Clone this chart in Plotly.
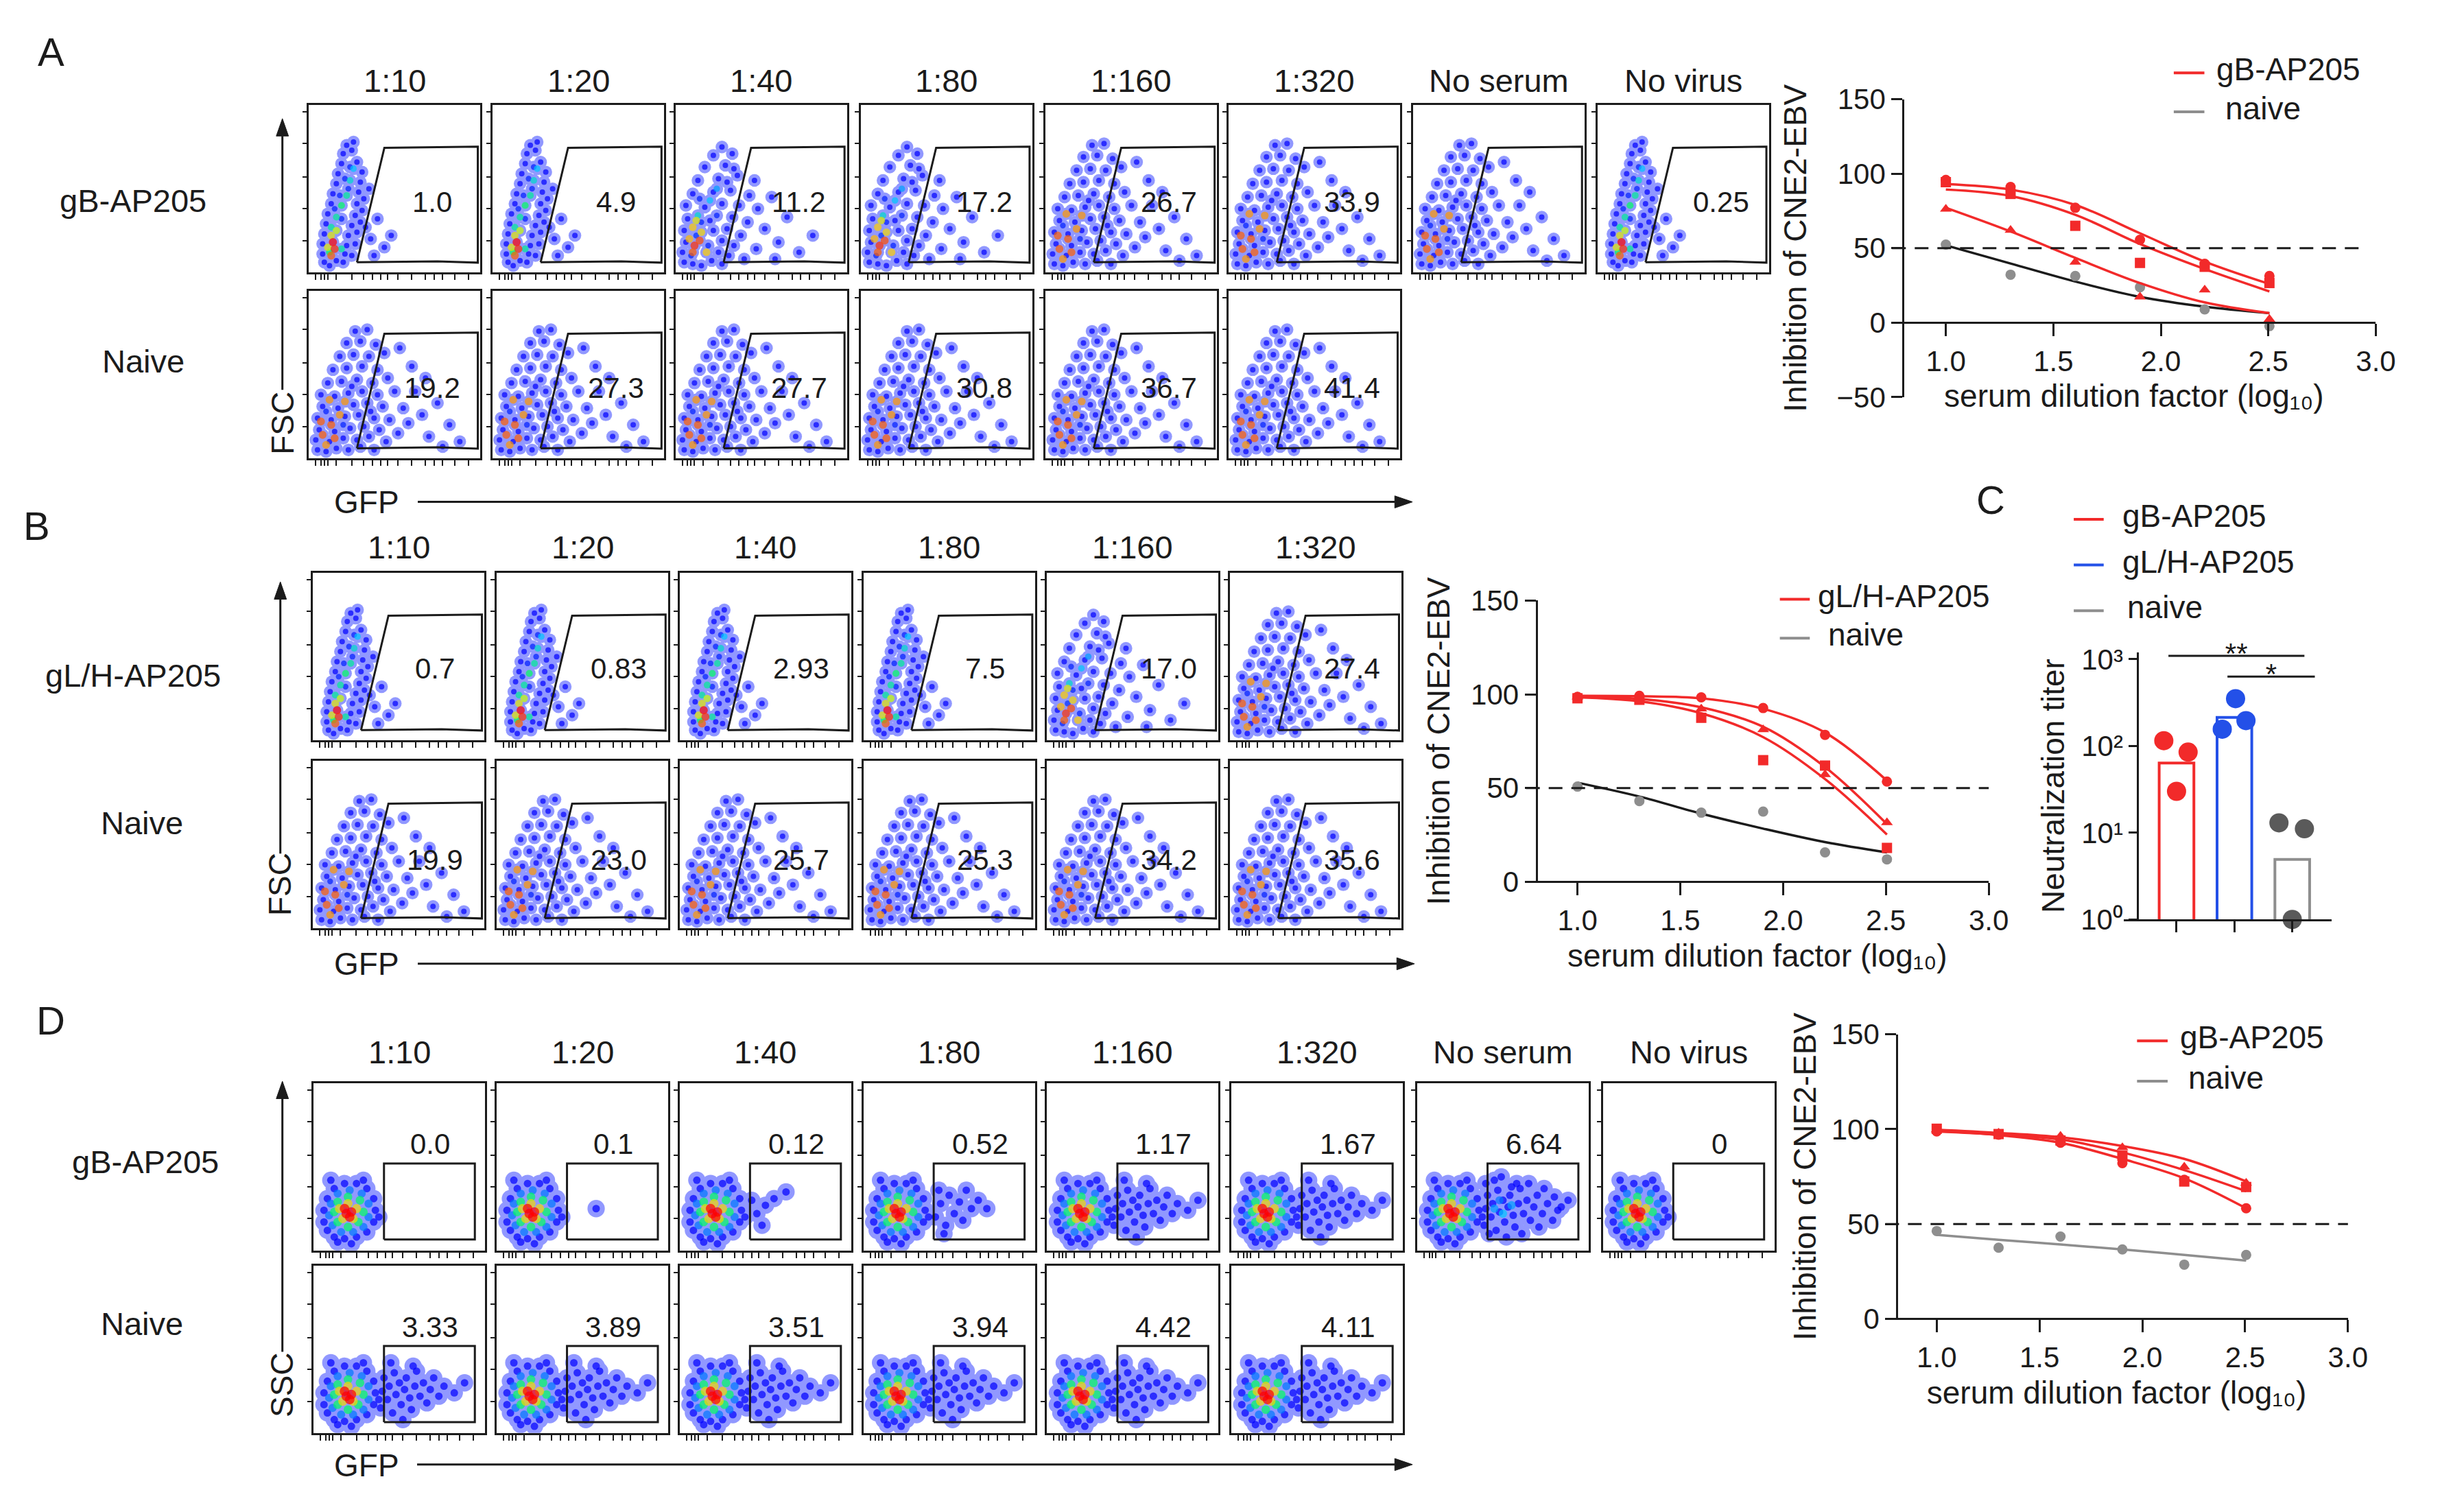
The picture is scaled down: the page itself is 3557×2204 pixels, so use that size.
import plotly.graph_objects as go

# page geometry (reference pixels) -> figure paper fractions
OFF = 8
FW, FH = 3541, 2188
FONT = "Liberation Sans, Arial, Helvetica, sans-serif"
INK = "#1b1b1b"
RED = "#f22a2a"
BLUE = "#2350e8"
GREY = "#8e8e8e"
DARK = "#5a5a5a"

# ------------------------------------------------------------------ data
DILUTIONS = ["1:10", "1:20", "1:40", "1:80", "1:160", "1:320"]
CONTROLS = ["No serum", "No virus"]

A_GB_PCT = ["1.0", "4.9", "11.2", "17.2", "26.7", "33.9", "", "0.25"]
A_NAIVE_PCT = ["19.2", "27.3", "27.7", "30.8", "36.7", "41.4"]
B_GLH_PCT = ["0.7", "0.83", "2.93", "7.5", "17.0", "27.4"]
B_NAIVE_PCT = ["19.9", "23.0", "25.7", "25.3", "34.2", "35.6"]
D_GB_PCT = ["0.0", "0.1", "0.12", "0.52", "1.17", "1.67", "6.64", "0"]
D_NAIVE_PCT = ["3.33", "3.89", "3.51", "3.94", "4.42", "4.11"]

# gates (relative GFP vs FSC / SSC units)
FSC_GATE_X = [0.28, 0.44, 0.985, 0.985, 0.75, 0.28]
FSC_GATE_Y = [0.06, 0.745, 0.752, 0.058, 0.066, 0.06]
SSC_GATE_X = [0.41, 0.94, 0.94, 0.41, 0.41]
SSC_GATE_Y = [0.065, 0.065, 0.52, 0.52, 0.065]

# events: (GFP, FSC/SSC, local density)
TIGHT_EVENTS = [
    (0.09, 0.06, 0), (0.12, 0.04, 0), (0.16, 0.07, 0), (0.20, 0.06, 0), (0.08, 0.11, 0), (0.21, 0.11, 0),
    (0.25, 0.10, 0), (0.08, 0.17, 0), (0.22, 0.16, 0), (0.27, 0.17, 0), (0.09, 0.23, 0), (0.23, 0.22, 0),
    (0.28, 0.24, 0), (0.10, 0.29, 0), (0.25, 0.28, 0), (0.30, 0.30, 0), (0.11, 0.35, 0), (0.27, 0.34, 0),
    (0.31, 0.37, 0), (0.13, 0.41, 0), (0.28, 0.41, 0), (0.32, 0.44, 0), (0.14, 0.47, 0), (0.29, 0.48, 0),
    (0.16, 0.53, 0), (0.30, 0.54, 0), (0.17, 0.59, 0), (0.31, 0.60, 0), (0.19, 0.65, 0), (0.28, 0.66, 0),
    (0.20, 0.71, 0), (0.25, 0.73, 0), (0.22, 0.76, 0), (0.33, 0.27, 0), (0.36, 0.20, 0), (0.40, 0.32, 0),
    (0.44, 0.15, 0), (0.38, 0.10, 0), (0.48, 0.22, 0), (0.35, 0.50, 0), (0.26, 0.78, 0), (0.15, 0.38, 0.1),
    (0.18, 0.46, 0.1), (0.21, 0.56, 0.1), (0.24, 0.63, 0.1), (0.19, 0.32, 0.1), (0.23, 0.50, 0.1),
    (0.13, 0.27, 0.5), (0.16, 0.33, 0.5), (0.19, 0.40, 0.55), (0.22, 0.46, 0.5), (0.24, 0.55, 0.45),
    (0.26, 0.62, 0.4), (0.12, 0.12, 0.55), (0.19, 0.14, 0.5), (0.13, 0.22, 0.75), (0.16, 0.25, 0.7),
    (0.11, 0.15, 0.75), (0.14, 0.18, 1.0), (0.15, 0.14, 0.95), (0.13, 0.10, 0.9),
]
MID_EVENTS = [
    (0.05, 0.06, 0), (0.10, 0.05, 0), (0.15, 0.04, 0), (0.21, 0.07, 0), (0.27, 0.05, 0), (0.04, 0.12, 0),
    (0.25, 0.12, 0), (0.31, 0.10, 0), (0.06, 0.18, 0), (0.27, 0.19, 0), (0.34, 0.16, 0), (0.05, 0.25, 0),
    (0.22, 0.25, 0), (0.30, 0.26, 0), (0.38, 0.22, 0), (0.07, 0.32, 0), (0.20, 0.31, 0), (0.33, 0.33, 0),
    (0.42, 0.30, 0), (0.06, 0.40, 0), (0.17, 0.39, 0), (0.27, 0.41, 0), (0.37, 0.40, 0), (0.10, 0.47, 0),
    (0.22, 0.48, 0), (0.32, 0.49, 0), (0.43, 0.46, 0), (0.13, 0.55, 0), (0.25, 0.56, 0), (0.36, 0.58, 0),
    (0.17, 0.63, 0), (0.29, 0.64, 0), (0.22, 0.70, 0), (0.33, 0.71, 0), (0.27, 0.75, 0), (0.48, 0.38, 0),
    (0.52, 0.26, 0), (0.47, 0.14, 0), (0.56, 0.45, 0), (0.60, 0.18, 0), (0.65, 0.33, 0), (0.72, 0.12, 0),
    (0.80, 0.22, 0), (0.58, 0.08, 0), (0.40, 0.08, 0), (0.46, 0.55, 0), (0.15, 0.30, 0.1), (0.12, 0.22, 0.15),
    (0.19, 0.16, 0.1), (0.24, 0.34, 0.1), (0.09, 0.10, 0.1), (0.30, 0.54, 0), (0.14, 0.44, 0.1), (0.34, 0.62, 0),
    (0.13, 0.34, 0.45), (0.20, 0.43, 0.4), (0.24, 0.50, 0.35),
    (0.10, 0.27, 0.8), (0.15, 0.24, 0.78), (0.18, 0.12, 0.8), (0.08, 0.20, 0.82), (0.12, 0.31, 0.75),
    (0.11, 0.16, 0.95), (0.14, 0.19, 0.92), (0.10, 0.12, 0.9),
]
SPREAD_EVENTS = [
    (0.05, 0.05, 0), (0.10, 0.04, 0), (0.16, 0.06, 0), (0.23, 0.05, 0), (0.30, 0.07, 0), (0.38, 0.05, 0),
    (0.04, 0.11, 0), (0.12, 0.10, 0), (0.20, 0.12, 0), (0.28, 0.11, 0), (0.35, 0.13, 0), (0.45, 0.10, 0),
    (0.06, 0.17, 0), (0.15, 0.16, 0), (0.24, 0.18, 0), (0.32, 0.19, 0), (0.41, 0.17, 0), (0.52, 0.15, 0),
    (0.05, 0.24, 0), (0.13, 0.23, 0), (0.21, 0.25, 0), (0.29, 0.26, 0), (0.38, 0.24, 0), (0.47, 0.23, 0),
    (0.58, 0.21, 0), (0.08, 0.31, 0), (0.17, 0.30, 0), (0.26, 0.32, 0), (0.34, 0.33, 0), (0.43, 0.31, 0),
    (0.55, 0.30, 0), (0.07, 0.38, 0), (0.15, 0.37, 0), (0.23, 0.39, 0), (0.31, 0.40, 0), (0.40, 0.38, 0),
    (0.50, 0.40, 0), (0.11, 0.45, 0), (0.19, 0.46, 0), (0.28, 0.47, 0), (0.37, 0.45, 0), (0.46, 0.48, 0),
    (0.14, 0.53, 0), (0.22, 0.54, 0), (0.31, 0.55, 0), (0.40, 0.53, 0), (0.18, 0.61, 0), (0.26, 0.62, 0),
    (0.35, 0.61, 0), (0.44, 0.63, 0), (0.22, 0.69, 0), (0.30, 0.70, 0), (0.39, 0.68, 0), (0.27, 0.76, 0),
    (0.34, 0.77, 0), (0.62, 0.40, 0), (0.66, 0.26, 0), (0.70, 0.13, 0), (0.75, 0.33, 0), (0.82, 0.20, 0),
    (0.88, 0.10, 0), (0.60, 0.55, 0), (0.68, 0.48, 0), (0.53, 0.66, 0), (0.78, 0.07, 0), (0.20, 0.20, 0.1),
    (0.10, 0.28, 0.1), (0.36, 0.28, 0), (0.25, 0.43, 0),
    (0.08, 0.14, 0.9), (0.13, 0.20, 0.9), (0.10, 0.08, 0.85), (0.18, 0.26, 0.85), (0.07, 0.22, 0.9),
    (0.15, 0.12, 0.9), (0.21, 0.34, 0.85), (0.12, 0.35, 0.85),
]
SSC_CORE_EVENTS = [
    (0.08, 0.12, 0), (0.12, 0.08, 0), (0.18, 0.07, 0), (0.25, 0.08, 0), (0.31, 0.11, 0), (0.35, 0.17, 0),
    (0.36, 0.24, 0), (0.35, 0.31, 0), (0.31, 0.37, 0), (0.25, 0.40, 0), (0.18, 0.40, 0), (0.12, 0.37, 0),
    (0.08, 0.31, 0), (0.06, 0.24, 0), (0.06, 0.17, 0), (0.14, 0.05, 0), (0.22, 0.04, 0), (0.38, 0.20, 0),
    (0.10, 0.42, 0), (0.29, 0.42, 0),
    (0.11, 0.15, 0.3), (0.16, 0.11, 0.3), (0.23, 0.11, 0.3), (0.29, 0.14, 0.3), (0.32, 0.20, 0.3),
    (0.32, 0.28, 0.3), (0.28, 0.34, 0.3), (0.21, 0.36, 0.3), (0.14, 0.34, 0.3), (0.10, 0.28, 0.3),
    (0.09, 0.21, 0.3),
    (0.14, 0.17, 0.55), (0.20, 0.14, 0.55), (0.26, 0.17, 0.55), (0.29, 0.23, 0.55), (0.27, 0.30, 0.55),
    (0.20, 0.32, 0.55), (0.14, 0.29, 0.55), (0.12, 0.23, 0.55),
    (0.17, 0.19, 0.78), (0.23, 0.19, 0.78), (0.25, 0.25, 0.78), (0.20, 0.28, 0.78), (0.15, 0.25, 0.78),
    (0.19, 0.22, 1.0), (0.22, 0.23, 1.0), (0.18, 0.25, 1.0), (0.21, 0.20, 1.0),
]
TAIL_ONE = [(0.58, 0.25, 0)]
TAIL_FEW = [(0.45, 0.22, 0), (0.50, 0.27, 0), (0.55, 0.31, 0), (0.62, 0.35, 0), (0.48, 0.15, 0), (0.42, 0.30, 0)]
TAIL_SMALL = [
    (0.42, 0.20, 0), (0.45, 0.28, 0), (0.48, 0.15, 0), (0.50, 0.33, 0), (0.53, 0.22, 0), (0.56, 0.29, 0),
    (0.58, 0.18, 0), (0.60, 0.36, 0), (0.63, 0.25, 0), (0.67, 0.30, 0), (0.44, 0.36, 0), (0.47, 0.10, 0),
    (0.72, 0.25, 0),
]
TAIL_MED = [
    (0.39, 0.15, 0), (0.40, 0.25, 0), (0.41, 0.33, 0), (0.43, 0.20, 0), (0.44, 0.28, 0), (0.46, 0.12, 0),
    (0.47, 0.36, 0), (0.48, 0.23, 0), (0.50, 0.30, 0), (0.51, 0.17, 0), (0.53, 0.26, 0), (0.54, 0.33, 0),
    (0.56, 0.21, 0), (0.57, 0.14, 0), (0.59, 0.28, 0), (0.60, 0.37, 0), (0.62, 0.22, 0), (0.64, 0.30, 0),
    (0.66, 0.18, 0), (0.68, 0.26, 0), (0.70, 0.33, 0), (0.73, 0.22, 0), (0.76, 0.28, 0), (0.82, 0.24, 0),
    (0.45, 0.42, 0), (0.52, 0.08, 0), (0.58, 0.40, 0), (0.88, 0.30, 0),
]
TAIL_LARGE = TAIL_MED + [
    (0.40, 0.40, 0), (0.42, 0.10, 0), (0.49, 0.44, 0), (0.55, 0.38, 0), (0.61, 0.10, 0), (0.65, 0.40, 0),
    (0.71, 0.14, 0), (0.74, 0.37, 0), (0.79, 0.18, 0), (0.80, 0.32, 0), (0.84, 0.26, 0),
    (0.45, 0.25, 0.35), (0.50, 0.22, 0.4), (0.55, 0.27, 0.35), (0.48, 0.30, 0.3),
]

CLOUDS = {"tight": TIGHT_EVENTS, "mid": MID_EVENTS, "spread": SPREAD_EVENTS}
TAILS = {"none": [], "one": TAIL_ONE, "few": TAIL_FEW, "small": TAIL_SMALL, "med": TAIL_MED, "large": TAIL_LARGE}

A_GB_LOOK = ["tight", "tight", "mid", "mid", "spread", "spread", "spread", "tight"]
A_NAIVE_LOOK = ["spread"] * 6
B_GLH_LOOK = ["tight", "tight", "tight", "tight", "mid", "spread"]
B_NAIVE_LOOK = ["spread"] * 6
D_GB_LOOK = ["none", "one", "few", "small", "med", "med", "large", "none"]
D_NAIVE_LOOK = ["med"] * 6

# neutralisation curves: log10 serum dilution
LOG_DIL = [1.0, 1.301, 1.602, 1.903, 2.204, 2.505]
HALF = 50

A_GB1 = [95.8, 91.1, 77.1, 55.6, 39.5, 31.3]
A_GB2 = [94.3, 86.4, 65.0, 40.1, 37.5, 26.6]
A_GB3 = [76.2, 62.1, 40.7, 17.3, 22.0, 2.3]
A_NAIVE = [52.4, 32.2, 31.3, 23.8, 8.9, -2.3]
A_GB1_FIT = [93.0, 89.3, 79.0, 60.0, 41.0, 26.0]
A_GB2_FIT = [89.3, 85.0, 72.4, 52.8, 36.0, 21.0]
A_GB3_FIT = [77.1, 61.2, 43.5, 26.6, 13.6, 6.4]
A_NAIVE_FIT = [51.9, 39.7, 27.6, 17.3, 10.7, 6.4]

B_GLH1 = [98.7, 99.2, 98.4, 92.7, 78.4, 53.5]
B_GLH2 = [97.9, 97.1, 87.5, 64.9, 62.0, 18.1]
B_GLH3 = [98.7, 97.9, 92.3, 81.2, 57.2, 31.6]
B_NAIVE = [50.8, 43.1, 36.9, 37.5, 15.7, 12.0]
B_GLH1_FIT = [99.2, 99.0, 97.9, 92.3, 79.6, 54.0]
B_GLH2_FIT = [98.4, 96.3, 89.9, 77.2, 54.8, 25.2]
B_GLH3_FIT = [98.7, 97.6, 93.1, 82.7, 61.2, 30.8]
B_NAIVE_FIT = [52.9, 45.5, 36.4, 28.4, 21.2, 15.7]

D_GB1 = [98.8, 97.1, 92.8, 82.1, 73.3, 58.3]
D_GB2 = [100.2, 97.4, 94.0, 86.0, 72.4, 69.5]
D_GB3 = [99.7, 98.0, 96.3, 90.3, 80.1, 71.6]
D_NAIVE = [46.3, 37.5, 43.4, 36.6, 28.6, 33.7]
D_GB1_FIT = [99.1, 96.8, 92.8, 84.3, 74.1, 58.3]
D_GB2_FIT = [98.8, 97.1, 94.5, 87.7, 78.4, 67.3]
D_GB3_FIT = [99.7, 98.0, 95.7, 91.1, 84.3, 72.4]
D_NAIVE_FIT = [44.3, 41.7, 39.2, 36.6, 33.7, 30.7]

# panel C: neutralisation titers
C_GROUPS = ["gB-AP205", "gL/H-AP205", "naive"]
C_BAR = [63.6, 213, 4.93]
C_POINTS = [[115, 85, 30], [351, 156, 196], [13, 11.1, 1.0]]
C_SIG = [("**", 0, 2, 1093), ("*", 1, 2, 630)]
C_TICKS = ["10\u2070", "10\u00b9", "10\u00b2", "10\u00b3"]

# ------------------------------------------------------------------ layout helpers
def fx(px):
    return (px - OFF) / FW


def fy(py):
    return 1 - (py - OFF) / FH


fig = go.Figure()
layout = {}
annotations = []
shapes = []
count = [0]

FLOW_CS = [[0.0, "#0000ff"], [0.25, "#0050ff"], [0.4, "#00c8ff"], [0.55, "#00ff60"],
           [0.7, "#c8ff00"], [0.8, "#ffd000"], [0.9, "#ff6000"], [1.0, "#ff0000"]]
FLOW_XTICKS = [0.04, 0.07, 0.09, 0.11, 0.16, 0.25, 0.32, 0.37, 0.42, 0.46, 0.52, 0.60, 0.68, 0.73, 0.78, 0.85, 0.93]
FLOW_YTICKS = [0.19, 0.38, 0.57, 0.77, 0.96]
BOX_W, BOX_H = 252, 249


def new_axes():
    count[0] += 1
    s = "" if count[0] == 1 else str(count[0])
    return "x" + s, "y" + s, "xaxis" + s, "yaxis" + s


def text(t, px, py, size=46, xanchor="center", **kw):
    annotations.append(dict(text=t, x=fx(px), y=fy(py), xref="paper", yref="paper", showarrow=False,
                            xanchor=xanchor, yanchor="middle",
                            font=dict(family=FONT, size=size, color=INK), **kw))


def arrow(tip_x, tip_y, tail_x, tail_y, head=26, half=9):
    # shaft plus filled head, both as paper-referenced shapes
    length = ((tip_x - tail_x) ** 2 + (tip_y - tail_y) ** 2) ** 0.5
    ux, uy = (tip_x - tail_x) / length, (tip_y - tail_y) / length
    bx, by = tip_x - head * ux, tip_y - head * uy
    shapes.append(dict(type="line", xref="paper", yref="paper", x0=fx(tail_x), y0=fy(tail_y),
                       x1=fx(bx), y1=fy(by), line=dict(color=INK, width=3)))
    p1 = (bx - half * uy, by + half * ux)
    p2 = (bx + half * uy, by - half * ux)
    path = "M {},{} L {},{} L {},{} Z".format(fx(tip_x), fy(tip_y), fx(p1[0]), fy(p1[1]), fx(p2[0]), fy(p2[1]))
    shapes.append(dict(type="path", xref="paper", yref="paper", path=path, fillcolor=INK,
                       line=dict(color=INK, width=1)))


def flow_panel(left, top, events, gate_x, gate_y, label, lab_x, lab_y, base, grow):
    xr, yr, xk, yk = new_axes()
    common = dict(range=[0, 1], showgrid=False, zeroline=False, showline=True, mirror=True,
                  linecolor=INK, linewidth=3, ticks="outside", tickcolor=INK, tickwidth=2,
                  showticklabels=False, fixedrange=True)
    layout[xk] = dict(common, domain=[fx(left), fx(left + BOX_W)], anchor=yr, tickvals=FLOW_XTICKS, ticklen=8)
    layout[yk] = dict(common, domain=[fy(top + BOX_H), fy(top)], anchor=xr, tickvals=FLOW_YTICKS, ticklen=6)
    if events:
        ex = [e[0] for e in events]
        ey = [e[1] for e in events]
        ed = [e[2] for e in events]
        # flat halo (trace-level opacity, so overlaps do not stack) to read as a dense cloud
        fig.add_trace(go.Scatter(
            x=ex, y=ey, mode="markers", xaxis=xr, yaxis=yr, hoverinfo="skip", opacity=0.5,
            marker=dict(color="#2433ff", size=base * 2.3, line=dict(width=0))))
        fig.add_trace(go.Scatter(
            x=ex, y=ey, mode="markers", xaxis=xr, yaxis=yr, hoverinfo="skip",
            marker=dict(color=ed, colorscale=FLOW_CS, cmin=0, cmax=1,
                        size=[base + grow * d for d in ed], line=dict(width=0))))
    fig.add_trace(go.Scatter(x=gate_x, y=gate_y, mode="lines", xaxis=xr, yaxis=yr, hoverinfo="skip",
                             line=dict(color=INK, width=3)))
    if label:
        annotations.append(dict(text=label, x=lab_x, y=lab_y, xref=xr, yref=yr, showarrow=False,
                                font=dict(family=FONT, size=42, color=INK)))


AX = dict(showgrid=False, zeroline=False, showline=True, linecolor=INK, linewidth=3,
          ticks="outside", tickcolor=INK, tickwidth=3, fixedrange=True,
          tickfont=dict(family=FONT, size=42, color=INK))
TITLE_FONT = dict(family=FONT, size=46, color=INK)
XTITLE = "serum dilution factor (log\u2081\u2080)"
YTITLE = "Inhibition of CNE2-EBV"


def curve_chart(xpx, ypx, yrange, yticks, xaxis_py, yaxis_px, xstand, ystand,
                series, naive, naive_fit, naive_line, dash_end):
    xr, yr, xk, yk = new_axes()
    layout[xk] = dict(AX, domain=[fx(xpx[0]), fx(xpx[1])], range=[0.75, 3.0], anchor="free",
                      position=fy(xaxis_py), tickvals=[1.0, 1.5, 2.0, 2.5, 3.0], tickformat=".1f",
                      ticklen=18, title=dict(text=XTITLE, font=TITLE_FONT, standoff=xstand))
    layout[yk] = dict(AX, domain=[fy(ypx[0]), fy(ypx[1])], range=yrange, anchor="free",
                      position=fx(yaxis_px), tickvals=yticks, ticklen=16,
                      title=dict(text=YTITLE, font=TITLE_FONT, standoff=ystand))
    shapes.append(dict(type="line", xref=xr + " domain", yref=yr, x0=0, x1=dash_end, y0=HALF, y1=HALF,
                       line=dict(color=INK, width=3, dash="20px,13px")))
    fig.add_trace(go.Scatter(x=LOG_DIL, y=naive_fit, mode="lines", xaxis=xr, yaxis=yr, hoverinfo="skip",
                             line=dict(color=naive_line, width=3.5, shape="spline")))
    fig.add_trace(go.Scatter(x=LOG_DIL, y=naive, mode="markers", xaxis=xr, yaxis=yr, cliponaxis=False,
                             marker=dict(color=GREY, size=15, symbol="circle")))
    for pts, fit, sym in series:
        fig.add_trace(go.Scatter(x=LOG_DIL, y=fit, mode="lines", xaxis=xr, yaxis=yr, hoverinfo="skip",
                                 line=dict(color=RED, width=3.5, shape="spline")))
        fig.add_trace(go.Scatter(x=LOG_DIL, y=pts, mode="markers", xaxis=xr, yaxis=yr, cliponaxis=False,
                                 marker=dict(color=RED, size=15, symbol=sym)))


def legend(x0, x1, rows):
    for name, col, py, tx in rows:
        shapes.append(dict(type="line", xref="paper", yref="paper", x0=fx(x0), x1=fx(x1),
                           y0=fy(py), y1=fy(py), line=dict(color=col, width=4)))
        text(name, tx, py - 5, xanchor="left")


# ------------------------------------------------------------------ panel A (FSC / GFP)
A_LEFTS = [454, 724, 993, 1265, 1537, 1806, 2077, 2348]
A_TOPS = [133, 410]
for i, name in enumerate(DILUTIONS + CONTROLS):
    text(name, A_LEFTS[i] + BOX_W / 2, 96, size=47)
    flow_panel(A_LEFTS[i], A_TOPS[0], CLOUDS[A_GB_LOOK[i]], FSC_GATE_X, FSC_GATE_Y,
               A_GB_PCT[i], 0.72, 0.42, 8, 4)
for i in range(6):
    flow_panel(A_LEFTS[i], A_TOPS[1], CLOUDS[A_NAIVE_LOOK[i]], FSC_GATE_X, FSC_GATE_Y,
               A_NAIVE_PCT[i], 0.72, 0.42, 8, 4)
text("A", 75, 53, size=58)
text("gB-AP205", 196, 275, size=47)
text("Naive", 211, 514, size=47)
arrow(415, 153, 415, 557)
text("FSC", 415, 607, textangle=-90)
arrow(2076, 724, 614, 724)
text("GFP", 539, 724)

# ------------------------------------------------------------------ panel B
B_LEFTS = [460, 730, 999, 1269, 1539, 1808]
B_TOPS = [830, 1110]
for i, name in enumerate(DILUTIONS):
    text(name, B_LEFTS[i] + BOX_W / 2, 791, size=47)
    flow_panel(B_LEFTS[i], B_TOPS[0], CLOUDS[B_GLH_LOOK[i]], FSC_GATE_X, FSC_GATE_Y,
               B_GLH_PCT[i], 0.71, 0.43, 8, 4)
    flow_panel(B_LEFTS[i], B_TOPS[1], CLOUDS[B_NAIVE_LOOK[i]], FSC_GATE_X, FSC_GATE_Y,
               B_NAIVE_PCT[i], 0.71, 0.41, 8, 4)
text("B", 54, 760, size=58)
text("gL/H-AP205", 196, 982, size=47)
text("Naive", 209, 1202, size=47)
arrow(412, 843, 412, 1248)
text("FSC", 412, 1294, textangle=-90)
arrow(2079, 1412, 614, 1412)
text("GFP", 539, 1412)

# ------------------------------------------------------------------ panel D (SSC / GFP)
D_LEFTS = [461, 730, 999, 1269, 1539, 1810, 2083, 2356]
D_TOPS = [1590, 1862]
for i, name in enumerate(DILUTIONS + CONTROLS):
    text(name, D_LEFTS[i] + BOX_W / 2, 1543, size=47)
    flow_panel(D_LEFTS[i], D_TOPS[0], SSC_CORE_EVENTS + TAILS[D_GB_LOOK[i]], SSC_GATE_X, SSC_GATE_Y,
               D_GB_PCT[i], 0.68, 0.635, 11, 3)
for i in range(6):
    flow_panel(D_LEFTS[i], D_TOPS[1], SSC_CORE_EVENTS + TAILS[D_NAIVE_LOOK[i]], SSC_GATE_X, SSC_GATE_Y,
               D_NAIVE_PCT[i], 0.68, 0.635, 11, 3)
text("D", 75, 1496, size=58)
text("gB-AP205", 214, 1707, size=47)
text("Naive", 209, 1948, size=47)
arrow(415, 1587, 415, 1990)
text("SSC", 415, 2039, textangle=-90)
arrow(2076, 2158, 613, 2158)
text("GFP", 539, 2159)

# ------------------------------------------------------------------ curves
curve_chart((2781, 3492), (568, 124), [-50, 150], [-50, 0, 50, 100, 150], 457, 2797, 12, 28,
            [(A_GB1, A_GB1_FIT, "circle"), (A_GB2, A_GB2_FIT, "square"), (A_GB3, A_GB3_FIT, "triangle-up")],
            A_NAIVE, A_NAIVE_FIT, INK, 0.98)
legend(3195, 3240, [("gB-AP205", RED, 85, 3256), ("naive", GREY, 143, 3269)])

curve_chart((2243, 2923), (1290, 871), [0, 150], [0, 50, 100, 150], 1290, 2258, 12, 14,
            [(B_GLH1, B_GLH1_FIT, "circle"), (B_GLH2, B_GLH2_FIT, "square"), (B_GLH3, B_GLH3_FIT, "triangle-up")],
            B_NAIVE, B_NAIVE_FIT, INK, 1.0)
legend(2616, 2660, [("gL/H-AP205", RED, 869, 2670), ("naive", GREY, 927, 2685)])

curve_chart((2771, 3451), (1941, 1517), [0, 150], [0, 50, 100, 150], 1941, 2788, 12, 6,
            [(D_GB1, D_GB1_FIT, "circle"), (D_GB2, D_GB2_FIT, "square"), (D_GB3, D_GB3_FIT, "triangle-up")],
            D_NAIVE, D_NAIVE_FIT, GREY, 1.0)
legend(3141, 3186, [("gB-AP205", RED, 1527, 3202), ("naive", GREY, 1587, 3214)])

# ------------------------------------------------------------------ panel C
xr, yr, xk, yk = new_axes()
layout[xk] = dict(AX, domain=[fx(3122), fx(3427)], range=[-0.906, 2.68], anchor=yr,
                  tickvals=[0, 1, 2], ticklen=16, showticklabels=False)
layout[yk] = dict(AX, type="log", domain=[fy(1346), fy(948)], range=[0, 3.08], anchor="free",
                  position=fx(3142), tickvals=[1, 10, 100, 1000], ticklen=12, ticktext=C_TICKS,
                  title=dict(text="Neutralization titer", font=TITLE_FONT, standoff=8))
C_COLORS = [RED, BLUE, GREY]
C_DOTS = [RED, BLUE, DARK]
C_JITTER = [[-0.22, 0.2, 0.0], [0.02, -0.21, 0.2], [-0.23, 0.21, 0.0]]
fig.add_trace(go.Bar(x=[0, 1, 2], y=C_BAR, width=0.6, xaxis=xr, yaxis=yr,
                     marker=dict(color="rgba(0,0,0,0)", line=dict(color=C_COLORS, width=4))))
for i, pts in enumerate(C_POINTS):
    fig.add_trace(go.Scatter(x=[i + j for j in C_JITTER[i]], y=pts, mode="markers", xaxis=xr, yaxis=yr,
                             cliponaxis=False, marker=dict(color=C_DOTS[i], size=28)))
C_SIG_SPAN = [(-0.14, 2.21), (0.88, 2.39)]
for (star, a, b, level), (s0, s1) in zip(C_SIG, C_SIG_SPAN):
    fig.add_trace(go.Scatter(x=[s0, s1], y=[level, level], mode="lines", xaxis=xr, yaxis=yr,
                             cliponaxis=False, line=dict(color=INK, width=3)))
    fig.add_trace(go.Scatter(x=[(s0 + s1) / 2], y=[level], mode="text", text=[star], xaxis=xr, yaxis=yr,
                             cliponaxis=False, textposition="middle center",
                             textfont=dict(family=FONT, size=42, color=INK)))
text("C", 2926, 721, size=58)
legend(3048, 3092, [(C_GROUPS[0], RED, 750, 3117), (C_GROUPS[1], BLUE, 818, 3117), (C_GROUPS[2], GREY, 886, 3125)])

fig.update_layout(
    width=FW, height=FH, margin=dict(l=0, r=0, t=0, b=0),
    plot_bgcolor="white", paper_bgcolor="white", showlegend=False,
    font=dict(family=FONT, color=INK),
    annotations=annotations, shapes=shapes, **layout,
)

fig.write_html("out.html")
